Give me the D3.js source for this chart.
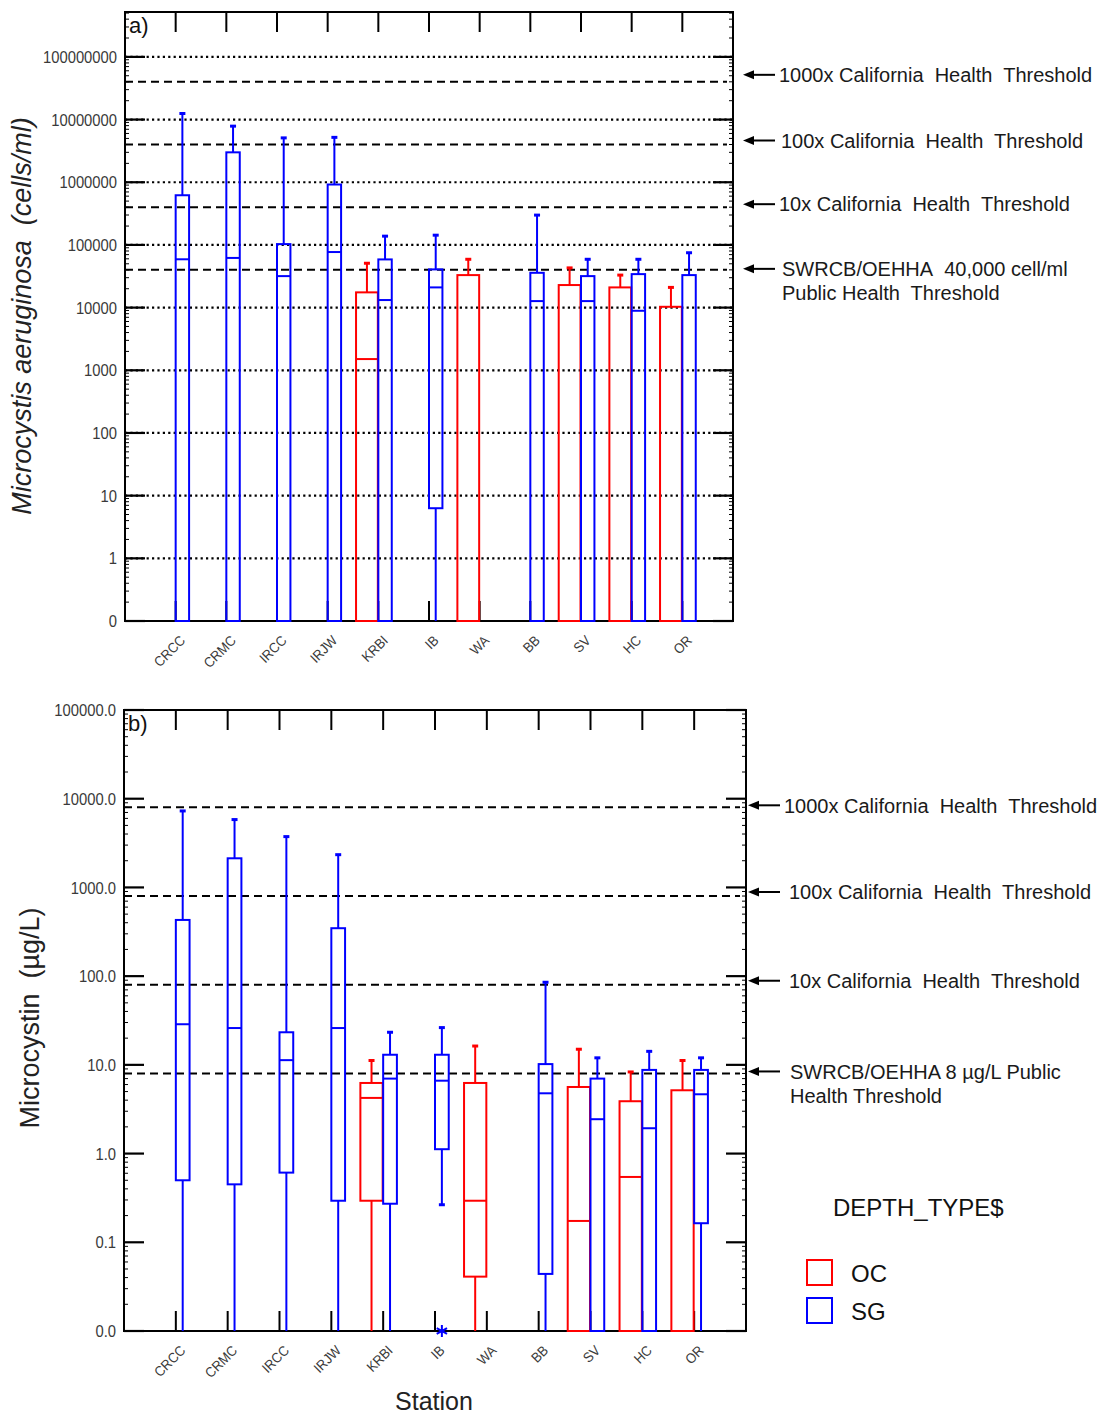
<!DOCTYPE html>
<html>
<head>
<meta charset="utf-8">
<script src="https://cdn.jsdelivr.net/npm/d3@7"></script>
<style>
  body { margin: 0; background: #fff; }
  svg { display: block; }
</style>
</head>
<body>
<div id="chart"></div>
<script>
/* ── Data ──────────────────────────────────────────────────── */
const STATIONS = ['CRCC','CRMC','IRCC','IRJW','KRBI','IB','WA','BB','SV','HC','OR'];

// box summaries per station: [min, q1, median, q3, max]; 0 = non-detect, null = no samples
// a) Microcystis aeruginosa (cells/ml)
const CELLS_SG = [
  [0, 0,   5.9e4, 6.2e5, 1.25e7],
  [0, 0,   6.2e4, 3.0e6, 7.85e6],
  [0, 0,   3.18e4, 1.03e5, 5.1e6],
  [0, 0,   7.7e4, 9.2e5, 5.2e6],
  [0, 0,   1.32e4, 5.87e4, 1.38e5],
  [0, 6.3, 2.1e4, 4.07e4, 1.43e5],
  null,
  [0, 0,   1.27e4, 3.59e4, 2.99e5],
  [0, 0,   1.27e4, 3.18e4, 5.9e4],
  [0, 0,   8.9e3, 3.42e4, 5.9e4],
  [0, 0,   0,     3.3e4, 7.5e4]
];
const CELLS_OC = [
  null, null, null, null,
  [0, 0, 1510, 1.75e4, 5.1e4],
  null,
  [0, 0, 0, 3.3e4, 5.9e4],
  null,
  [0, 0, 0, 2.29e4, 4.3e4],
  [0, 0, 0, 2.1e4, 3.3e4],
  [0, 0, 0, 1.03e4, 2.1e4]
];

// b) Microcystin (µg/L)
const TOXIN_SG = [
  [0,     0.5,   28.7, 430,  7280],
  [0,     0.45,  26,   2130, 5820],
  [0,     0.61,  11.3, 23.3, 3740],
  [0,     0.294, 26,   347,  2340],
  [0,     0.272, 7.0,  13.0, 23.3],
  [0.265, 1.12,  6.63, 13.0, 26.3],
  null,
  [0,     0.044, 4.78, 10.2, 85.3],
  [0,     0,     2.44, 7.0,  12.0],
  [0,     0,     1.93, 8.77, 14.2],
  [0,     0.164, 4.66, 8.77, 12.0]
];
const TOXIN_OC = [
  null, null, null, null,
  [0, 0.294, 4.24,  6.25, 11.2],
  null,
  [0, 0.041, 0.294, 6.25, 16.3],
  null,
  [0, 0,     0.174, 5.63, 15.0],
  [0, 0,     0.545, 3.89, 8.32],
  [0, 0,     0,     5.17, 11.2]
];
const TOXIN_OUTLIERS = [{ station: 'IB', type: 'SG', value: 0 }];

// y ticks ("0" sits one decade under the lowest positive tick)
const CELLS_TICKS  = [0.1, 1, 10, 100, 1e3, 1e4, 1e5, 1e6, 1e7, 1e8];
const CELLS_LABELS = ['0','1','10','100','1000','10000','100000','1000000','10000000','100000000'];
const TOXIN_TICKS  = [0.01, 0.1, 1, 10, 100, 1e3, 1e4, 1e5];
const TOXIN_LABELS = ['0.0','0.1','1.0','10.0','100.0','1000.0','10000.0','100000.0'];

// threshold lines, lowest first
const CELLS_THRESH = [4e4, 4e5, 4e6, 4e7];
const TOXIN_THRESH = [8, 80, 800, 8000];
const CELLS_NOTES = [
  ['SWRCB/OEHHA\u00a0 40,000 cell/ml', 'Public Health\u00a0 Threshold'],
  ['10x California\u00a0 Health\u00a0 Threshold'],
  ['100x California\u00a0 Health\u00a0 Threshold'],
  ['1000x California\u00a0 Health\u00a0 Threshold']
];
const TOXIN_NOTES = [
  ['SWRCB/OEHHA 8 µg/L Public', 'Health Threshold'],
  ['10x California\u00a0 Health\u00a0 Threshold'],
  ['100x California\u00a0 Health\u00a0 Threshold'],
  ['1000x California\u00a0 Health\u00a0 Threshold']
];

const DEPTH_TYPES = ['OC', 'SG'];
const COLOR = { OC: '#ff0000', SG: '#0000ff' };

/* ── SVG ───────────────────────────────────────────────────── */
const W = 1099, H = 1414;
const FONT = '"Liberation Sans", Arial, Helvetica, sans-serif';
const svg = d3.select('#chart').append('svg')
  .attr('width', W).attr('height', H)
  .style('font-family', FONT);

function drawPanel(cfg) {
  const { x0, x1, y0, y1, domain, ticks, labels, grid, thresh, sg, oc,
          outliers, tag, notes, noteDy, noteX, arrowTip } = cfg;

  const x = d3.scalePoint().domain(STATIONS).range([x0, x1]).padding(1);
  const y = d3.scaleLog().domain(domain).range([y1, y0]);
  const yv = v => y(v <= 0 ? domain[0] : v);
  const step = x.step();
  const boxW = { OC: step * 0.43, SG: step * 0.265 };

  const g = svg.append('g');

  // dotted decade grid
  g.selectAll('line.grid').data(grid).join('line')
    .attr('class', 'grid')
    .attr('x1', x0).attr('x2', x1)
    .attr('y1', d => y(d)).attr('y2', d => y(d))
    .attr('stroke', '#000').attr('stroke-width', 2.2)
    .attr('stroke-dasharray', '2.2,3.2');

  // dashed threshold lines
  g.selectAll('line.thr').data(thresh).join('line')
    .attr('class', 'thr')
    .attr('x1', x0).attr('x2', x1 - 6)
    .attr('y1', d => y(d)).attr('y2', d => y(d))
    .attr('stroke', '#000').attr('stroke-width', 2)
    .attr('stroke-dasharray', '8,5');

  // minor log ticks
  const minor = [];
  const dLo = Math.round(Math.log10(domain[0])), dHi = Math.ceil(Math.log10(domain[1]));
  for (let d = dLo; d < dHi; d++) {
    for (let k = 2; k <= 9; k++) {
      const v = k * Math.pow(10, d);
      if (v < domain[1]) minor.push(v);
    }
  }
  [[x0, 4], [x1, -4]].forEach(([xx, len]) => {
    g.selectAll(null).data(minor).join('line')
      .attr('x1', xx).attr('x2', xx + len)
      .attr('y1', d => y(d)).attr('y2', d => y(d))
      .attr('stroke', '#000').attr('stroke-width', 1);
  });

  // major y ticks, both sides
  [[x0, 20], [x1, -20]].forEach(([xx, len]) => {
    g.selectAll(null).data(ticks).join('line')
      .attr('x1', xx).attr('x2', xx + len)
      .attr('y1', d => y(d)).attr('y2', d => y(d))
      .attr('stroke', '#000').attr('stroke-width', 2.2);
  });

  // category ticks top and bottom
  [[y0, 20], [y1, -20]].forEach(([yy, len]) => {
    g.selectAll(null).data(STATIONS).join('line')
      .attr('x1', d => x(d)).attr('x2', d => x(d))
      .attr('y1', yy).attr('y2', yy + len)
      .attr('stroke', '#000').attr('stroke-width', 2);
  });

  // frame
  g.append('rect')
    .attr('x', x0).attr('y', y0)
    .attr('width', x1 - x0).attr('height', y1 - y0)
    .attr('fill', 'none').attr('stroke', '#000').attr('stroke-width', 2);

  // y tick labels (narrow)
  g.selectAll('text.ytick').data(ticks).join('text')
    .attr('class', 'ytick')
    .attr('transform', d => `translate(${x0 - 8},${y(d)}) scale(0.87,1)`)
    .attr('dy', '0.36em')
    .attr('text-anchor', 'end')
    .attr('font-size', 17)
    .attr('fill', '#3a3a3a')
    .text((d, i) => labels[i]);

  // station labels
  g.selectAll('text.xtick').data(STATIONS).join('text')
    .attr('class', 'xtick')
    .attr('transform', d => `translate(${x(d) + 7},${y1 + 17}) rotate(-45) scale(0.92,1)`)
    .attr('dy', '0.35em')
    .attr('text-anchor', 'end')
    .attr('font-size', 14)
    .attr('fill', '#3a3a3a')
    .text(d => d);

  // panel tag
  g.append('text')
    .attr('x', x0 + 4).attr('y', y0 + 21)
    .attr('font-size', 22).attr('fill', '#111')
    .text(tag);

  // boxes
  const series = { OC: oc, SG: sg };
  DEPTH_TYPES.forEach(type => {
    const rows = STATIONS.map((s, i) => ({ s, v: series[type][i] })).filter(d => d.v);
    const col = COLOR[type];
    const bx0 = d => type === 'OC' ? x(d.s) - boxW.OC - 0.5 : x(d.s);
    const bx1 = d => type === 'OC' ? x(d.s) - 0.5 : x(d.s) + boxW.SG;
    const mid = d => (bx0(d) + bx1(d)) / 2;
    const bg = g.append('g').attr('stroke', col).attr('fill', 'none');

    // upper whisker + cap
    bg.selectAll(null).data(rows.filter(d => d.v[4] > d.v[3])).join('line')
      .attr('x1', mid).attr('x2', mid)
      .attr('y1', d => yv(d.v[3])).attr('y2', d => yv(d.v[4]))
      .attr('stroke-width', 2);
    bg.selectAll(null).data(rows.filter(d => d.v[4] > d.v[3])).join('line')
      .attr('x1', d => mid(d) - 3).attr('x2', d => mid(d) + 3)
      .attr('y1', d => yv(d.v[4])).attr('y2', d => yv(d.v[4]))
      .attr('stroke-width', 3);

    // lower whisker (+ cap when above zero)
    bg.selectAll(null).data(rows.filter(d => d.v[1] > d.v[0])).join('line')
      .attr('x1', mid).attr('x2', mid)
      .attr('y1', d => yv(d.v[1])).attr('y2', d => yv(d.v[0]))
      .attr('stroke-width', 2);
    bg.selectAll(null).data(rows.filter(d => d.v[1] > d.v[0] && d.v[0] > 0)).join('line')
      .attr('x1', d => mid(d) - 3).attr('x2', d => mid(d) + 3)
      .attr('y1', d => yv(d.v[0])).attr('y2', d => yv(d.v[0]))
      .attr('stroke-width', 3);

    // box
    bg.selectAll(null).data(rows).join('rect')
      .attr('x', bx0).attr('width', d => bx1(d) - bx0(d))
      .attr('y', d => yv(d.v[3])).attr('height', d => yv(d.v[1]) - yv(d.v[3]))
      .attr('stroke-width', 2);

    // median
    bg.selectAll(null).data(rows).join('line')
      .attr('x1', bx0).attr('x2', bx1)
      .attr('y1', d => yv(d.v[2])).attr('y2', d => yv(d.v[2]))
      .attr('stroke-width', 2);

    // outliers
    const outs = (outliers || []).filter(o => o.type === type).map(o => {
      const i = STATIONS.indexOf(o.station);
      return { s: o.station, v: series[type][i], value: o.value };
    });
    bg.selectAll(null).data(outs).join('path')
      .attr('d', d3.symbol(d3.symbolAsterisk, 100))
      .attr('transform', d => `translate(${mid(d)},${yv(d.value)})`)
      .attr('stroke-width', 2);
  });

  // threshold notes with arrows
  notes.forEach((lines, i) => {
    const ay = y(thresh[i]) + noteDy[i];
    const tail = arrowTip + 32;
    g.append('line')
      .attr('x1', arrowTip + 8).attr('x2', tail)
      .attr('y1', ay).attr('y2', ay)
      .attr('stroke', '#000').attr('stroke-width', 2);
    g.append('path')
      .attr('d', `M${arrowTip},${ay} L${arrowTip + 11},${ay - 4.5} L${arrowTip + 11},${ay + 4.5} Z`)
      .attr('fill', '#000');
    const t = g.append('text')
      .attr('y', ay)
      .attr('font-size', 20).attr('fill', '#1a1a1a');
    lines.forEach((ln, j) => {
      t.append('tspan')
        .attr('x', tail + noteX[i])
        .attr('dy', j === 0 ? '0.36em' : '1.2em')
        .text(ln);
    });
  });

  return { x, y };
}

/* ── Panel a ───────────────────────────────────────────────── */
drawPanel({
  x0: 125, x1: 733, y0: 12, y1: 621,
  domain: [0.1, 5.2e8],
  ticks: CELLS_TICKS, labels: CELLS_LABELS,
  grid: CELLS_TICKS,
  thresh: CELLS_THRESH,
  sg: CELLS_SG, oc: CELLS_OC,
  tag: 'a)',
  notes: CELLS_NOTES,
  noteDy: [-1, -3, -4, -7],
  noteX: [7, 4, 6, 4],
  arrowTip: 743
});

/* ── Panel b ───────────────────────────────────────────────── */
drawPanel({
  x0: 124, x1: 746, y0: 710, y1: 1331,
  domain: [0.01, 1e5],
  ticks: TOXIN_TICKS, labels: TOXIN_LABELS,
  grid: [],
  thresh: TOXIN_THRESH,
  sg: TOXIN_SG, oc: TOXIN_OC,
  outliers: TOXIN_OUTLIERS,
  tag: 'b)',
  notes: TOXIN_NOTES,
  noteDy: [-2, -4, -4, -2],
  noteX: [10, 9, 9, 4],
  arrowTip: 748
});

/* ── Axis titles ───────────────────────────────────────────── */
svg.append('text')
  .attr('transform', 'translate(31,316) rotate(-90)')
  .attr('text-anchor', 'middle')
  .attr('font-size', 27).attr('fill', '#222')
  .attr('font-style', 'italic')
  .text('Microcystis aeruginosa\u00a0 (cells/ml)');

svg.append('text')
  .attr('transform', 'translate(39,1018) rotate(-90)')
  .attr('text-anchor', 'middle')
  .attr('font-size', 27).attr('fill', '#222')
  .text('Microcystin\u00a0 (µg/L)');

svg.append('text')
  .attr('x', 434).attr('y', 1410)
  .attr('text-anchor', 'middle')
  .attr('font-size', 25).attr('fill', '#222')
  .text('Station');

/* ── Legend ────────────────────────────────────────────────── */
const leg = svg.append('g');
leg.append('text')
  .attr('x', 833).attr('y', 1216)
  .attr('font-size', 24).attr('fill', '#111')
  .text('DEPTH_TYPE$');
DEPTH_TYPES.forEach((t, i) => {
  const ly = 1260 + i * 38;
  leg.append('rect')
    .attr('x', 807).attr('y', ly)
    .attr('width', 25).attr('height', 25)
    .attr('fill', 'none').attr('stroke', COLOR[t]).attr('stroke-width', 2);
  leg.append('text')
    .attr('x', 851).attr('y', ly + 13)
    .attr('dy', '0.36em')
    .attr('font-size', 24).attr('fill', '#111')
    .text(t);
});
</script>
</body>
</html>
